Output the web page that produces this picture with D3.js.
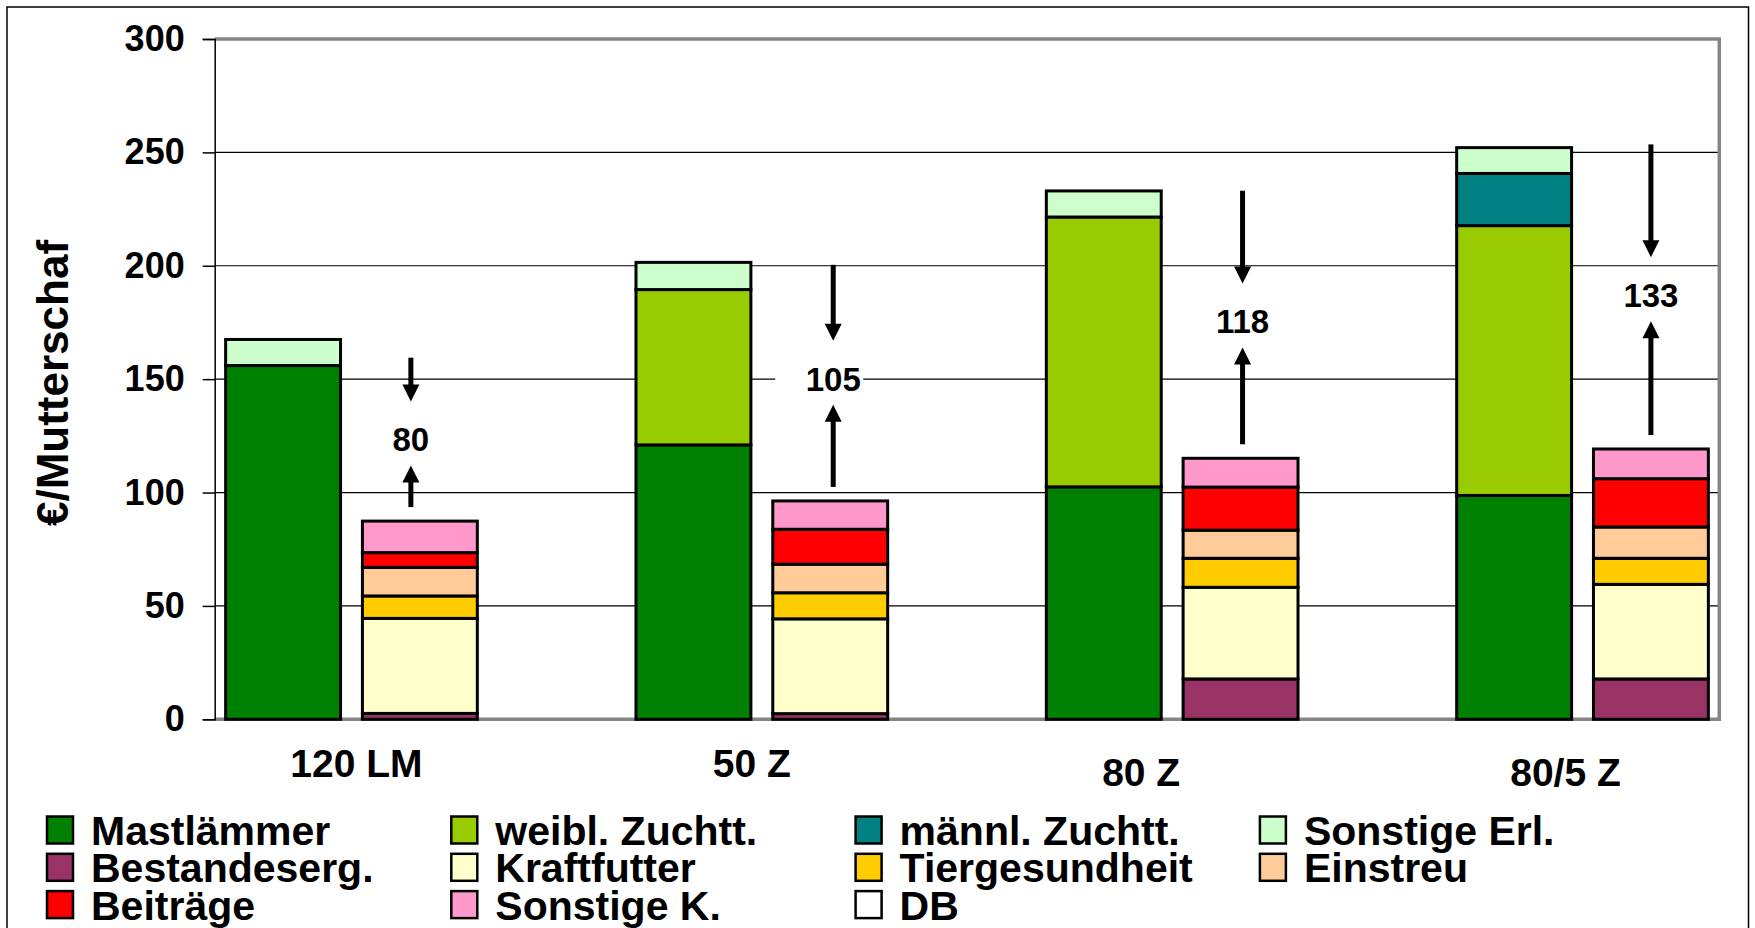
<!DOCTYPE html>
<html>
<head>
<meta charset="utf-8">
<script src="https://cdn.jsdelivr.net/npm/d3@7"></script>
<style>
body { margin: 0; background: #fff; }
text { font-family: "Liberation Sans", Arial, sans-serif; font-weight: bold; fill: #000; }
</style>
</head>
<body>
<script>
var width = 1755,
    height = 928;

// Data (Euro je Mutterschaf)
var categories = ["120 LM", "50 Z", "80 Z", "80/5 Z"];

// Erlöse
var mastlaemmer = [156, 121, 102.5, 98.7];
var weiblZuchtt = [0, 68.5, 119, 119];
var maennlZuchtt = [0, 0, 0, 23];
var sonstigeErl = [11.5, 12, 11.5, 11.4];

// Kosten
var bestandeserg = [2.6, 2.5, 17.8, 17.8];
var kraftfutter = [41.9, 41.8, 40.4, 41.7];
var tiergesundheit = [9.9, 11.5, 12.8, 11.5];
var einstreu = [12.6, 12.6, 12.4, 13.8];
var beitraege = [6.5, 15.4, 19.0, 21.3];
var sonstigeK = [13.9, 12.5, 12.7, 13.1];

// Deckungsbeitrag
var db = [80, 105, 118, 133];

var yTicks = [0, 50, 100, 150, 200, 250, 300];

var revenueSeries = [
    { name: "Mastlämmer", values: mastlaemmer, color: "#008000" },
    { name: "weibl. Zuchtt.", values: weiblZuchtt, color: "#99cc00" },
    { name: "männl. Zuchtt.", values: maennlZuchtt, color: "#008080" },
    { name: "Sonstige Erl.", values: sonstigeErl, color: "#ccffcc" }
];
var costSeries = [
    { name: "Bestandeserg.", values: bestandeserg, color: "#993366" },
    { name: "Kraftfutter", values: kraftfutter, color: "#ffffcc" },
    { name: "Tiergesundheit", values: tiergesundheit, color: "#ffcc00" },
    { name: "Einstreu", values: einstreu, color: "#ffcc99" },
    { name: "Beiträge", values: beitraege, color: "#ff0000" },
    { name: "Sonstige K.", values: sonstigeK, color: "#ff99cc" }
];
var dbSeries = { name: "DB", values: db, color: "#ffffff" };

// layout
var plot = { left: 214.7, right: 1719.3, top: 39, bottom: 719.3 };
// small nudges for hand-placed labels, as in the original
var catNudge = [[5, 0], [-10, 0], [-31, 9], [-17, 9]];
// annotation nudges: [dx, label dy, down-arrow start dy]
var annNudge = [[-9, 12, 18], [3, 0, 2], [2, 0, 0], [0, 0, -3]];

var svg = d3.select("body").append("svg")
    .attr("width", width)
    .attr("height", height);

svg.append("rect")
    .attr("width", width).attr("height", height)
    .attr("fill", "#fff");

// outer frame
svg.append("rect")
    .attr("x", 7).attr("y", 7)
    .attr("width", 1741.5).attr("height", 960)
    .attr("fill", "none")
    .attr("stroke", "#000")
    .attr("stroke-width", 1.5);

// 11 slots: bar, bar, blank, bar, bar, blank ...
var x = d3.scaleBand()
    .domain(d3.range(11))
    .range([plot.left, plot.right])
    .paddingInner(0.16)
    .paddingOuter(0.08);

var y = d3.scaleLinear()
    .domain([0, 300])
    .range([plot.bottom, plot.top]);

// gridlines
svg.append("g")
    .selectAll("line")
    .data(yTicks.filter(function (d) { return d > 0 && d < 300; }))
    .enter().append("line")
    .attr("x1", plot.left).attr("x2", plot.right)
    .attr("y1", function (d) { return y(d); })
    .attr("y2", function (d) { return y(d); })
    .attr("stroke", "#000")
    .attr("stroke-width", 1.2);

// plot border (grey)
svg.append("path")
    .attr("d", "M" + plot.left + "," + plot.top + "H" + plot.right + "V" + plot.bottom + "H" + plot.left)
    .attr("fill", "none")
    .attr("stroke", "#858585")
    .attr("stroke-width", 3.5);

// y axis
var yAxis = d3.axisLeft(y).tickValues(yTicks).tickSize(12).tickPadding(18);
var gy = svg.append("g")
    .attr("transform", "translate(" + plot.left + ",0)")
    .call(yAxis);
gy.select(".domain").attr("stroke", "#000").attr("stroke-width", 1.5);
gy.selectAll(".tick line").attr("stroke", "#000").attr("stroke-width", 1.5);
gy.selectAll(".tick text")
    .style("font-size", "36px")
    .style("font-family", "'Liberation Sans', Arial, sans-serif")
    .style("font-weight", "bold")
    .attr("fill", "#000");

// stacked bars
function drawStack(series, slotOf) {
    var rows = categories.map(function (c, i) {
        var r = { cat: c, i: i };
        series.forEach(function (s) { r[s.name] = s.values[i]; });
        return r;
    });
    var stacked = d3.stack().keys(series.map(function (s) { return s.name; }))(rows);
    stacked.forEach(function (layer, k) {
        svg.append("g")
            .selectAll("rect")
            .data(layer.filter(function (d) { return d[1] - d[0] > 0; }))
            .enter().append("rect")
            .attr("x", function (d) { return x(slotOf(d.data.i)); })
            .attr("width", x.bandwidth())
            .attr("y", function (d) { return y(d[1]); })
            .attr("height", function (d) { return y(d[0]) - y(d[1]); })
            .attr("fill", series[k].color)
            .attr("stroke", "#000")
            .attr("stroke-width", 3);
    });
}
drawStack(revenueSeries, function (i) { return 3 * i; });
drawStack(costSeries, function (i) { return 3 * i + 1; });

// category labels
svg.append("g")
    .selectAll("text")
    .data(categories)
    .enter().append("text")
    .attr("x", function (d, i) {
        return (x(3 * i) + x(3 * i + 1) + x.bandwidth()) / 2 + catNudge[i][0];
    })
    .attr("y", function (d, i) { return 777 + catNudge[i][1]; })
    .attr("text-anchor", "middle")
    .style("font-size", "39px")
    .text(function (d) { return d; });

// DB annotation: arrows + value
function sum(arr, i) { return d3.sum(arr, function (s) { return s.values[i]; }); }

var arrows = svg.append("g");
categories.forEach(function (c, i) {
    var cost = sum(costSeries, i);
    var top = cost + db[i];
    var cx = x(3 * i + 1) + x.bandwidth() / 2 + annNudge[i][0];
    var ly = y(cost + db[i] / 2) - 3 + annNudge[i][1];

    arrows.append("rect")
        .attr("x", cx - 58).attr("y", ly - 17)
        .attr("width", 88).attr("height", 34)
        .attr("fill", "#fff");

    arrows.append("text")
        .attr("x", cx).attr("y", ly + 12)
        .attr("text-anchor", "middle")
        .style("font-size", "33px")
        .text(db[i]);

    // down arrow
    var d0 = y(top) + annNudge[i][2], d1 = ly - 38;
    arrows.append("line")
        .attr("x1", cx).attr("x2", cx)
        .attr("y1", d0).attr("y2", d1 - 14)
        .attr("stroke", "#000").attr("stroke-width", 5);
    arrows.append("path")
        .attr("d", "M" + (cx - 8.5) + "," + (d1 - 17) + "L" + (cx + 8.5) + "," + (d1 - 17) + "L" + cx + "," + d1 + "Z")
        .attr("fill", "#000");

    // up arrow
    var u0 = y(cost) - 14, u1 = ly + 26;
    arrows.append("line")
        .attr("x1", cx).attr("x2", cx)
        .attr("y1", u0).attr("y2", u1 + 14)
        .attr("stroke", "#000").attr("stroke-width", 5);
    arrows.append("path")
        .attr("d", "M" + (cx - 8.5) + "," + (u1 + 17) + "L" + (cx + 8.5) + "," + (u1 + 17) + "L" + cx + "," + u1 + "Z")
        .attr("fill", "#000");
});

// y axis title
svg.append("text")
    .attr("transform", "translate(68,383) rotate(-90)")
    .attr("text-anchor", "middle")
    .style("font-size", "44px")
    .text("€/Mutterschaf");

// legend
var legendItems = revenueSeries.concat(costSeries).concat([dbSeries]);
var legend = svg.append("g")
    .selectAll("g")
    .data(legendItems)
    .enter().append("g")
    .attr("transform", function (d, i) {
        return "translate(" + (47 + (i % 4) * 404.3) + "," + (830 + Math.floor(i / 4) * 37.3) + ")";
    });
legend.append("rect")
    .attr("x", 0).attr("y", -13.5)
    .attr("width", 26).attr("height", 27)
    .attr("fill", function (d) { return d.color; })
    .attr("stroke", "#000")
    .attr("stroke-width", 2.5);
legend.append("text")
    .attr("x", 44).attr("y", 15)
    .style("font-size", "41px")
    .text(function (d) { return d.name; });
</script>
</body>
</html>
